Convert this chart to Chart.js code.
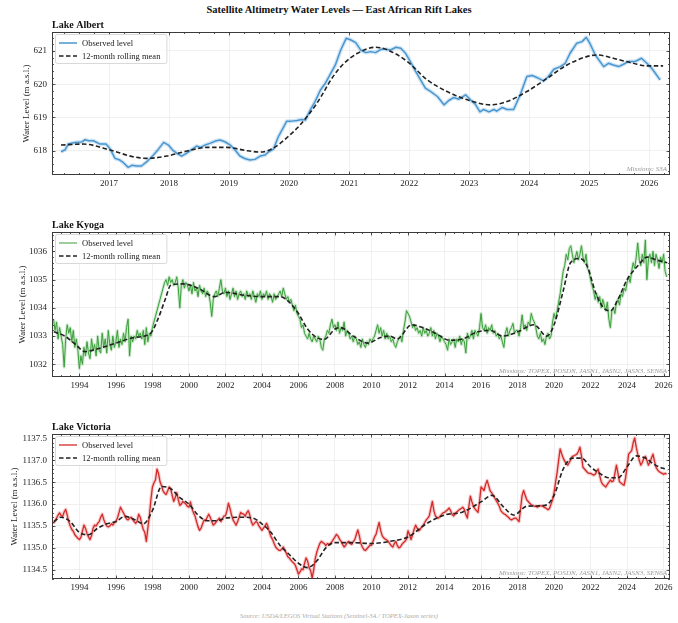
<!DOCTYPE html>
<html>
<head>
<meta charset="utf-8">
<script src="https://cdn.jsdelivr.net/npm/chart.js@4.4.1/dist/chart.umd.min.js"></script>
<style>
  html, body { margin: 0; padding: 0; background: #fff; }
  #fig { position: relative; width: 678px; height: 623px; overflow: hidden;
         font-family: "Liberation Serif", "Times New Roman", serif; }
  #fig canvas { position: absolute; left: 0; }
  #figTitle { position: absolute; left: 0; top: 4px; width: 678px; text-align: center;
              font-weight: bold; font-size: 10.5px; color: #111; }
  #figSource { position: absolute; left: 0; top: 612px; width: 678px; text-align: center;
               font-style: italic; font-size: 6.5px; color: #aaa; }
</style>
</head>
<body>
<div id="fig">
  <div id="figTitle">Satellite Altimetry Water Levels — East African Rift Lakes</div>
  <canvas id="albert" width="678" height="178" style="top:14px"></canvas>
  <canvas id="kyoga" width="678" height="180" style="top:214px"></canvas>
  <canvas id="victoria" width="678" height="180" style="top:416px"></canvas>
  <div id="figSource">Source: USDA/LEGOS Virtual Stations (Sentinel-3A / TOPEX-Jason series)</div>
</div>
<script>
// ---------------- Lake Albert (Sentinel-3A, monthly) ----------------
const albertDates = [
  2016.20, 2016.27, 2016.32, 2016.43, 2016.54, 2016.60, 2016.66, 2016.74, 2016.85, 2016.95,
  2017.02, 2017.10, 2017.18, 2017.24, 2017.32, 2017.38, 2017.46, 2017.54, 2017.63, 2017.74,
  2017.82, 2017.91, 2017.99, 2018.07, 2018.13, 2018.21, 2018.29, 2018.38, 2018.46, 2018.52,
  2018.60, 2018.68, 2018.77, 2018.85, 2018.93, 2019.02, 2019.10, 2019.18, 2019.27, 2019.35,
  2019.43, 2019.52, 2019.60, 2019.66, 2019.74, 2019.82, 2019.91, 2019.96, 2020.04, 2020.13,
  2020.21, 2020.27, 2020.35, 2020.43, 2020.52, 2020.60, 2020.68, 2020.77, 2020.86, 2020.95,
  2021.03, 2021.11, 2021.19, 2021.28, 2021.36, 2021.44, 2021.53, 2021.61, 2021.69, 2021.78,
  2021.86, 2021.94, 2022.02, 2022.11, 2022.19, 2022.27, 2022.36, 2022.47, 2022.58, 2022.66,
  2022.74, 2022.83, 2022.94, 2023.02, 2023.10, 2023.18, 2023.24, 2023.33, 2023.41, 2023.46,
  2023.55, 2023.63, 2023.74, 2023.85, 2023.96, 2024.05, 2024.13, 2024.24, 2024.32, 2024.41,
  2024.52, 2024.60, 2024.68, 2024.79, 2024.88, 2024.95, 2025.01, 2025.10, 2025.24, 2025.32,
  2025.40, 2025.49, 2025.57, 2025.65, 2025.76, 2025.87, 2025.96, 2026.04, 2026.18
];
const albertLevels = [
  617.97, 618.03, 618.20, 618.25, 618.26, 618.33, 618.30, 618.30, 618.20, 618.20,
  618.05, 617.77, 617.72, 617.64, 617.50, 617.56, 617.54, 617.54, 617.67, 617.87,
  618.04, 618.25, 618.17, 618.00, 617.92, 617.84, 617.92, 618.04, 618.14, 618.10,
  618.17, 618.22, 618.29, 618.32, 618.27, 618.17, 618.02, 617.84, 617.76, 617.72,
  617.74, 617.84, 617.87, 617.97, 618.05, 618.42, 618.72, 618.89, 618.89, 618.91,
  618.94, 618.92, 619.22, 619.47, 619.82, 620.02, 620.28, 620.58, 621.03, 621.38,
  621.33, 621.25, 621.03, 620.95, 620.98, 620.95, 621.05, 621.05, 621.03, 621.11,
  621.08, 620.93, 620.68, 620.38, 620.13, 619.88, 619.78, 619.63, 619.38, 619.51,
  619.60, 619.55, 619.68, 619.53, 619.40, 619.17, 619.24, 619.17, 619.24, 619.19,
  619.30, 619.24, 619.24, 619.68, 620.23, 620.26, 620.20, 620.10, 620.23, 620.45,
  620.53, 620.63, 620.93, 621.23, 621.28, 621.41, 621.23, 620.88, 620.53, 620.63,
  620.58, 620.53, 620.60, 620.68, 620.68, 620.78, 620.63, 620.48, 620.13
];
const albertMeanDates = [
  2016.20, 2016.57, 2017.02, 2017.40, 2017.63, 2017.96, 2018.30, 2018.63, 2018.96, 2019.30,
  2019.52, 2019.74, 2019.98, 2020.18, 2020.46, 2020.74, 2020.90, 2021.14, 2021.44, 2021.64,
  2021.97, 2022.30, 2022.63, 2022.97, 2023.35, 2023.63, 2023.96, 2024.30, 2024.63, 2024.96,
  2025.13, 2025.40, 2025.73, 2025.96, 2026.23
];
const albertMeanLevels = [
  618.17, 618.20, 618.02, 617.82, 617.77, 617.84, 617.99, 618.10, 618.10, 618.00,
  617.96, 618.08, 618.42, 618.77, 619.42, 620.25, 620.60, 620.93, 621.11, 621.03,
  620.68, 620.13, 619.78, 619.53, 619.38, 619.48, 619.78, 620.18, 620.58, 620.83,
  620.88, 620.78, 620.63, 620.55, 620.55
];

// ---------------- Lakes Kyoga & Victoria (TOPEX/Jason, monthly from Aug 1992) ----------------
const longSeriesStart = { year: 1992, month: 8 };
const kyogaLevels = [
  /* 1992 */ 1033.6, 1033.2, 1033.5, 1032.9, 1033.3,
  /* 1993 */ 1033.0, 1032.7, 1031.9, 1032.9, 1033.4, 1033.1, 1033.3, 1032.8, 1033.2, 1032.6, 1032.9, 1032.5,
  /* 1994 */ 1031.85, 1032.3, 1032.0, 1032.6, 1032.3, 1032.8, 1032.4, 1032.2, 1032.9, 1032.5, 1032.7, 1032.3,
  /* 1995 */ 1033.0, 1032.5, 1032.4, 1033.1, 1032.6, 1032.9, 1032.4, 1033.2, 1032.7, 1032.5, 1033.0, 1032.6,
  /* 1996 */ 1032.8, 1033.2, 1032.6, 1032.9, 1032.7, 1033.1, 1032.8, 1033.3, 1033.6, 1032.3, 1033.0, 1032.8,
  /* 1997 */ 1033.0, 1032.9, 1033.2, 1033.0, 1033.1, 1032.9, 1033.2, 1032.7, 1033.3, 1032.8, 1033.1, 1033.0,
  /* 1998 */ 1033.3, 1033.5, 1033.7, 1033.9, 1034.1, 1034.3, 1034.5, 1034.7, 1034.9, 1035.0, 1034.8, 1035.1,
  /* 1999 */ 1034.9, 1035.0, 1034.8, 1034.9, 1035.1, 1034.7, 1034.0, 1034.8, 1035.0, 1034.7, 1034.9, 1034.8,
  /* 2000 */ 1034.6, 1034.8, 1034.5, 1034.9, 1034.6, 1034.7, 1034.4, 1034.8, 1034.6, 1034.5, 1034.7, 1034.4,
  /* 2001 */ 1034.6, 1034.5, 1034.2, 1033.7, 1034.3, 1034.5, 1034.6, 1034.4, 1034.7, 1035.0, 1034.6, 1034.5,
  /* 2002 */ 1034.7, 1034.4, 1034.6, 1034.3, 1034.5, 1034.7, 1034.4, 1034.6, 1034.3, 1034.5, 1034.6, 1034.4,
  /* 2003 */ 1034.5, 1034.3, 1034.6, 1034.4, 1034.5, 1034.3, 1034.6, 1034.4, 1034.2, 1034.5, 1034.4, 1034.6,
  /* 2004 */ 1034.3, 1034.5, 1034.4, 1034.6, 1034.3, 1034.5, 1034.4, 1034.2, 1034.5, 1034.3, 1034.4, 1034.5,
  /* 2005 */ 1034.6, 1034.4, 1034.7, 1034.5, 1034.3, 1034.4, 1034.2, 1034.3, 1034.1, 1033.9, 1034.1, 1033.8,
  /* 2006 */ 1033.7, 1033.6, 1033.3, 1033.4, 1033.1, 1033.0, 1032.9, 1033.1, 1032.9, 1032.8, 1033.0, 1032.9,
  /* 2007 */ 1032.8, 1033.0, 1032.9, 1032.6, 1032.5, 1032.9, 1033.0, 1033.2, 1033.1, 1033.4, 1033.6, 1033.3,
  /* 2008 */ 1033.4, 1033.2, 1033.5, 1033.1, 1033.3, 1033.2, 1033.5, 1033.0, 1033.2, 1033.1, 1032.9, 1033.0,
  /* 2009 */ 1032.8, 1033.0, 1032.9, 1032.7, 1032.8, 1032.6, 1032.9, 1032.7, 1032.6, 1032.8, 1032.7, 1032.9,
  /* 2010 */ 1032.8, 1032.9, 1033.0, 1033.2, 1033.4, 1033.1, 1033.3, 1033.0, 1033.2, 1032.9, 1033.1, 1032.9,
  /* 2011 */ 1033.0, 1032.8, 1032.9, 1032.7, 1032.6, 1032.8, 1032.9, 1033.0, 1032.8, 1033.2, 1033.5, 1033.9,
  /* 2012 */ 1033.8, 1033.7, 1033.5, 1033.3, 1033.4, 1033.2, 1033.3, 1033.1, 1033.2, 1033.0, 1033.3, 1033.1,
  /* 2013 */ 1033.2, 1033.0, 1033.1, 1033.3, 1033.0, 1033.2, 1032.9, 1033.1, 1033.0, 1032.8, 1033.0, 1032.9,
  /* 2014 */ 1032.8, 1032.7, 1032.5, 1032.9, 1032.7, 1032.8, 1032.9, 1032.6, 1032.9, 1032.8, 1033.0, 1032.7,
  /* 2015 */ 1032.9, 1032.8, 1032.4, 1033.1, 1032.9, 1033.0, 1033.2, 1032.9, 1033.2, 1033.1, 1033.0, 1033.3,
  /* 2016 */ 1033.8, 1033.3, 1033.2, 1033.4, 1033.1, 1033.3, 1033.2, 1033.4, 1033.1, 1033.2, 1033.0, 1033.1,
  /* 2017 */ 1032.9, 1033.0, 1032.8, 1032.6, 1033.1, 1033.3, 1033.0, 1033.2, 1033.3, 1033.45, 1033.1, 1033.2,
  /* 2018 */ 1033.2, 1033.0, 1033.3, 1033.75, 1033.3, 1033.4, 1033.2, 1033.5, 1033.4, 1033.8, 1033.6, 1033.5,
  /* 2019 */ 1033.3, 1033.0, 1032.9, 1033.1, 1032.8, 1032.9, 1032.7, 1033.0, 1033.1, 1032.9, 1033.0, 1033.5,
  /* 2020 */ 1033.8, 1033.6, 1033.9, 1034.2, 1034.5, 1034.9, 1035.3, 1035.5, 1035.9, 1035.7, 1036.1, 1036.2,
  /* 2021 */ 1035.9, 1035.6, 1035.8, 1036.0, 1035.7, 1035.9, 1036.2, 1035.8, 1035.6, 1035.9, 1035.4, 1035.3,
  /* 2022 */ 1035.0, 1034.8, 1034.6, 1034.3, 1034.5, 1034.2, 1034.4, 1034.0, 1034.3, 1034.1, 1033.9, 1034.2,
  /* 2023 */ 1033.6, 1033.3, 1033.9, 1034.0, 1033.8, 1034.2, 1034.3, 1034.1, 1034.5, 1034.4, 1034.7, 1034.6,
  /* 2024 */ 1034.9, 1035.1, 1034.9, 1035.3, 1035.6, 1035.4, 1035.8, 1036.3, 1035.7, 1035.5, 1035.9, 1035.6,
  /* 2025 */ 1036.4, 1035.0, 1035.7, 1035.9, 1035.6, 1036.0, 1035.5, 1035.9, 1035.7, 1035.4, 1035.8, 1035.6,
  /* 2026 */ 1035.9, 1035.3, 1035.1
];
const kyogaMeanDates = [
  1992.60, 1993.20, 1993.80, 1994.30, 1995.00, 1996.00, 1997.00, 1997.90, 1998.30, 1998.70,
  1999.00, 1999.70, 2000.50, 2001.40, 2002.00, 2003.00, 2004.00, 2005.00, 2005.50, 2006.00,
  2006.50, 2007.00, 2007.40, 2008.00, 2008.30, 2009.00, 2009.80, 2010.50, 2011.00, 2011.40,
  2012.20, 2012.80, 2013.50, 2014.30, 2015.00, 2015.80, 2016.50, 2017.20, 2018.00, 2018.90,
  2019.60, 2020.00, 2020.50, 2020.90, 2021.40, 2021.80, 2022.30, 2022.80, 2023.10, 2023.50,
  2024.00, 2024.60, 2025.10, 2025.60, 2026.20
];
const kyogaMeanLevels = [
  1033.15, 1033.00, 1032.70, 1032.45, 1032.55, 1032.75, 1032.95, 1033.10, 1033.60, 1034.30,
  1034.80, 1034.85, 1034.70, 1034.40, 1034.55, 1034.45, 1034.40, 1034.40, 1034.20, 1033.80,
  1033.25, 1032.95, 1032.88, 1033.25, 1033.30, 1033.00, 1032.75, 1032.95, 1033.00, 1032.90,
  1033.40, 1033.30, 1033.10, 1032.85, 1032.90, 1033.15, 1033.20, 1033.00, 1033.15, 1033.40,
  1033.00, 1033.40, 1034.60, 1035.60, 1035.75, 1035.50, 1034.50, 1033.95, 1033.90, 1034.30,
  1035.00, 1035.50, 1035.80, 1035.70, 1035.60
];

const victoriaLevels = [
  /* 1992 */ 1135.56, 1135.62, 1135.68, 1135.75, 1135.80,
  /* 1993 */ 1135.74, 1135.72, 1135.82, 1135.88, 1135.75, 1135.60, 1135.50, 1135.42, 1135.38, 1135.30, 1135.26, 1135.22,
  /* 1994 */ 1135.19, 1135.24, 1135.38, 1135.52, 1135.45, 1135.33, 1135.25, 1135.19, 1135.28, 1135.45, 1135.52, 1135.50,
  /* 1995 */ 1135.56, 1135.60, 1135.70, 1135.77, 1135.65, 1135.56, 1135.50, 1135.48, 1135.50, 1135.55, 1135.52, 1135.58,
  /* 1996 */ 1135.60, 1135.68, 1135.80, 1135.93, 1135.86, 1135.80, 1135.72, 1135.66, 1135.64, 1135.68, 1135.70, 1135.65,
  /* 1997 */ 1135.60, 1135.56, 1135.62, 1135.77, 1135.70, 1135.55, 1135.42, 1135.35, 1135.15, 1135.45, 1135.73, 1136.10,
  /* 1998 */ 1136.39, 1136.48, 1136.55, 1136.80, 1136.70, 1136.51, 1136.42, 1136.30, 1136.25, 1136.22, 1136.30, 1136.39,
  /* 1999 */ 1136.35, 1136.20, 1136.06, 1136.15, 1136.26, 1136.10, 1135.97, 1136.00, 1136.06, 1136.03, 1136.00, 1135.95,
  /* 2000 */ 1135.93, 1136.05, 1135.90, 1135.80, 1135.73, 1135.60, 1135.48, 1135.40, 1135.45, 1135.55, 1135.64, 1135.62,
  /* 2001 */ 1135.70, 1135.77, 1135.70, 1135.60, 1135.52, 1135.55, 1135.60, 1135.64, 1135.68, 1135.60, 1135.66, 1135.73,
  /* 2002 */ 1135.73, 1135.85, 1136.02, 1135.90, 1135.75, 1135.64, 1135.58, 1135.52, 1135.60, 1135.70, 1135.81, 1135.78,
  /* 2003 */ 1135.77, 1135.72, 1135.80, 1135.85, 1135.75, 1135.60, 1135.52, 1135.56, 1135.60, 1135.58, 1135.50, 1135.45,
  /* 2004 */ 1135.40, 1135.45, 1135.50, 1135.56, 1135.48, 1135.35, 1135.25, 1135.19, 1135.10, 1135.02, 1134.98, 1134.95,
  /* 2005 */ 1134.94, 1134.97, 1135.02, 1134.95, 1134.88, 1134.80, 1134.77, 1134.72, 1134.68, 1134.65, 1134.60, 1134.50,
  /* 2006 */ 1134.40, 1134.45, 1134.52, 1134.50, 1134.65, 1134.77, 1134.70, 1134.55, 1134.48, 1134.31, 1134.50, 1134.75,
  /* 2007 */ 1134.90, 1135.00, 1135.10, 1135.15, 1135.12, 1135.10, 1135.05, 1135.10, 1135.08, 1135.10, 1135.14, 1135.20,
  /* 2008 */ 1135.25, 1135.31, 1135.27, 1135.20, 1135.15, 1135.08, 1135.02, 1135.06, 1135.12, 1135.15, 1135.10, 1135.08,
  /* 2009 */ 1135.14, 1135.19, 1135.30, 1135.41, 1135.28, 1135.10, 1135.02, 1134.96, 1134.94, 1134.98, 1135.02, 1135.06,
  /* 2010 */ 1135.06, 1135.15, 1135.25, 1135.31, 1135.45, 1135.58, 1135.40, 1135.28, 1135.23, 1135.20, 1135.18, 1135.15,
  /* 2011 */ 1135.10, 1135.05, 1135.02, 1135.10, 1135.15, 1135.05, 1135.00, 1135.02, 1135.08, 1135.12, 1135.15, 1135.20,
  /* 2012 */ 1135.39, 1135.30, 1135.19, 1135.30, 1135.42, 1135.52, 1135.45, 1135.39, 1135.42, 1135.48, 1135.52, 1135.58,
  /* 2013 */ 1135.64, 1135.68, 1135.73, 1135.90, 1136.06, 1135.85, 1135.73, 1135.70, 1135.68, 1135.72, 1135.76, 1135.80,
  /* 2014 */ 1135.81, 1135.84, 1135.87, 1135.91, 1135.85, 1135.76, 1135.73, 1135.78, 1135.82, 1135.85, 1135.88, 1135.90,
  /* 2015 */ 1135.93, 1135.88, 1135.76, 1135.68, 1135.95, 1136.18, 1136.05, 1135.95, 1135.89, 1135.85, 1135.81, 1136.05,
  /* 2016 */ 1136.39, 1136.35, 1136.31, 1136.45, 1136.54, 1136.42, 1136.30, 1136.26, 1136.20, 1136.14, 1136.08, 1136.02,
  /* 2017 */ 1135.95, 1135.85, 1135.81, 1135.78, 1135.76, 1135.73, 1135.70, 1135.66, 1135.64, 1135.66, 1135.68, 1135.68,
  /* 2018 */ 1135.64, 1135.60, 1135.90, 1136.20, 1136.31, 1136.20, 1136.10, 1136.06, 1136.02, 1135.98, 1135.97, 1135.95,
  /* 2019 */ 1135.95, 1135.93, 1135.95, 1135.96, 1135.96, 1135.94, 1135.92, 1135.90, 1135.87, 1135.90, 1136.00, 1136.10,
  /* 2020 */ 1136.26, 1136.50, 1136.72, 1137.00, 1137.26, 1137.15, 1137.05, 1136.98, 1136.92, 1136.89, 1136.95, 1137.02,
  /* 2021 */ 1137.09, 1137.10, 1137.12, 1137.14, 1137.20, 1137.30, 1137.10, 1136.84, 1136.80, 1136.76, 1136.72, 1136.70,
  /* 2022 */ 1136.70, 1136.68, 1136.66, 1136.68, 1136.74, 1136.80, 1136.65, 1136.51, 1136.45, 1136.42, 1136.39, 1136.45,
  /* 2023 */ 1136.50, 1136.55, 1136.51, 1136.53, 1136.70, 1136.89, 1136.70, 1136.51, 1136.48, 1136.45, 1136.43, 1136.60,
  /* 2024 */ 1136.85, 1137.14, 1137.18, 1137.22, 1137.40, 1137.51, 1137.30, 1137.14, 1137.00, 1136.89, 1136.95, 1137.05,
  /* 2025 */ 1137.09, 1137.00, 1136.89, 1136.95, 1137.05, 1137.14, 1136.98, 1136.84, 1136.78, 1136.74, 1136.72, 1136.70,
  /* 2026 */ 1136.68, 1136.70, 1136.68
];
const victoriaMeanDates = [
  1992.60, 1993.00, 1993.50, 1994.00, 1994.50, 1995.00, 1995.50, 1996.00, 1996.50, 1997.00,
  1997.50, 1998.00, 1998.50, 1999.00, 1999.50, 2000.00, 2000.50, 2001.00, 2001.50, 2002.00,
  2003.00, 2003.50, 2004.00, 2004.50, 2005.00, 2005.50, 2006.00, 2006.50, 2007.00, 2007.50,
  2008.00, 2009.00, 2010.00, 2011.00, 2012.00, 2013.00, 2014.00, 2015.00, 2016.00, 2016.60,
  2017.20, 2017.80, 2018.50, 2019.50, 2020.00, 2020.50, 2021.00, 2021.50, 2022.00, 2022.50,
  2023.00, 2023.50, 2024.00, 2024.50, 2025.00, 2025.50, 2026.20
];
const victoriaMeanLevels = [
  1135.60, 1135.70, 1135.60, 1135.35, 1135.30, 1135.45, 1135.55, 1135.60, 1135.72, 1135.65,
  1135.55, 1135.85, 1136.40, 1136.35, 1136.15, 1136.00, 1135.75, 1135.62, 1135.62, 1135.68,
  1135.70, 1135.68, 1135.55, 1135.35, 1135.05, 1134.85, 1134.65, 1134.55, 1134.70, 1135.00,
  1135.12, 1135.12, 1135.10, 1135.15, 1135.25, 1135.55, 1135.75, 1135.82, 1136.05, 1136.20,
  1135.95, 1135.75, 1135.95, 1135.97, 1136.20, 1136.80, 1137.05, 1137.05, 1136.85, 1136.70,
  1136.60, 1136.60, 1136.85, 1137.10, 1137.05, 1136.90, 1136.78
];

// Month-by-month decimal years for the two long altimetry records
const longSeriesDates = kyogaLevels.map((_, i) =>
  longSeriesStart.year + (longSeriesStart.month - 1 + i) / 12);

const SERIF = '"Liberation Serif", "Times New Roman", serif';

// Inward ticks on all four sides, a dark frame, panel heading, legend box and mission note
const panelDecor = {
  id: 'panelDecor',
  afterDatasetsDraw(chart, args, o) {
    const { ctx, chartArea: a, scales: { x, y } } = chart;
    ctx.save();
    ctx.strokeStyle = '#333';
    ctx.lineWidth = 0.8;
    const minorVals = (scale, step) => {
      const out = [];
      const start = Math.ceil(scale.min / step - 1e-9);
      for (let k = start; k * step <= scale.max + 1e-9; k++) out.push(k * step);
      return out;
    };
    const drawX = (vals, len) => {
      ctx.beginPath();
      vals.forEach(v => {
        const px = Math.round(x.getPixelForValue(v)) + 0.5;
        ctx.moveTo(px, a.bottom); ctx.lineTo(px, a.bottom - len);
        ctx.moveTo(px, a.top); ctx.lineTo(px, a.top + len);
      });
      ctx.stroke();
    };
    const drawY = (vals, len) => {
      ctx.beginPath();
      vals.forEach(v => {
        const py = Math.round(y.getPixelForValue(v)) + 0.5;
        ctx.moveTo(a.left, py); ctx.lineTo(a.left + len, py);
        ctx.moveTo(a.right, py); ctx.lineTo(a.right - len, py);
      });
      ctx.stroke();
    };
    drawX(minorVals(x, o.xMinor), 2);
    drawX(x.ticks.map(t => t.value), 3.5);
    drawY(minorVals(y, o.yMinor), 2);
    drawY(y.ticks.map(t => t.value), 3.5);
    ctx.strokeStyle = '#3a3a3a';
    ctx.lineWidth = 1;
    ctx.strokeRect(Math.round(a.left) + 0.5, Math.round(a.top) + 0.5,
                   Math.round(a.width) - 1, Math.round(a.height) - 1);
    ctx.restore();
  },
  afterDraw(chart, args, o) {
    const { ctx, chartArea: a } = chart;
    ctx.save();
    // panel heading
    ctx.fillStyle = '#111';
    ctx.font = `bold 10px ${SERIF}`;
    ctx.textAlign = 'left';
    ctx.textBaseline = 'alphabetic';
    ctx.fillText(o.heading, a.left, a.top - 4);

    // legend
    const ds = chart.data.datasets;
    const items = [ds[1], ds[0]];
    ctx.font = `8.5px ${SERIF}`;
    const tw = Math.max(...items.map(d => ctx.measureText(d.label).width));
    const x0 = a.left + 3, y0 = a.top + 2, w = 27 + tw + 6, h = 29;
    ctx.beginPath();
    ctx.roundRect(x0 + 0.5, y0 + 0.5, w, h, 2);
    ctx.fillStyle = 'rgba(255,255,255,0.85)';
    ctx.fill();
    ctx.strokeStyle = '#cfcfcf';
    ctx.lineWidth = 0.8;
    ctx.stroke();
    items.forEach((d, i) => {
      const cy = y0 + 9 + i * 13;
      ctx.beginPath();
      ctx.setLineDash(d.borderDash || []);
      ctx.strokeStyle = d.borderColor;
      ctx.lineWidth = d.borderWidth;
      ctx.moveTo(x0 + 4, cy); ctx.lineTo(x0 + 22, cy);
      ctx.stroke();
      ctx.setLineDash([]);
      ctx.fillStyle = '#222';
      ctx.textBaseline = 'middle';
      ctx.fillText(d.label, x0 + 27, cy + 0.5);
    });

    // mission note
    ctx.font = `italic 7px ${SERIF}`;
    ctx.fillStyle = '#9a9a9a';
    ctx.textAlign = 'right';
    ctx.textBaseline = 'middle';
    ctx.fillText(o.missions, a.right - 3, a.bottom - 6);
    ctx.restore();
  }
};

function buildPanel(id, p) {
  const obs = p.dates.map((d, i) => ({ x: d, y: p.levels[i] }));
  const mean = p.meanDates.map((d, i) => ({ x: d, y: p.meanLevels[i] }));
  const tickFont = { family: SERIF, size: 9 };
  return new Chart(document.getElementById(id), {
    type: 'line',
    data: {
      datasets: [
        { label: '12-month rolling mean', data: mean, borderColor: '#222', borderWidth: 1.6,
          borderDash: [4.5, 2.5], pointRadius: 0, cubicInterpolationMode: 'monotone', order: 0 },
        { label: 'Observed level', data: obs, borderColor: p.color, borderWidth: p.width,
          pointRadius: 0, tension: 0, order: 1 },
        { label: 'spread', data: obs, borderColor: p.halo, borderWidth: p.haloWidth,
          pointRadius: 0, tension: 0, order: 2 }
      ]
    },
    options: {
      responsive: false,
      animation: false,
      devicePixelRatio: 1,
      layout: { padding: { left: 0, right: 8, top: 18, bottom: 0 } },
      elements: { line: { borderJoinStyle: 'round' } },
      plugins: {
        legend: { display: false },
        tooltip: { enabled: false },
        panelDecor: { heading: p.heading, missions: p.missions, xMinor: p.xMinor, yMinor: p.yMinor }
      },
      scales: {
        x: {
          type: 'linear', min: p.xMin, max: p.xMax,
          afterFit: s => { s.height = 17; },
          border: { display: false },
          grid: { color: '#ececec', lineWidth: 0.8, drawTicks: false },
          ticks: { stepSize: p.xStep, includeBounds: false, autoSkip: false, maxRotation: 0,
                   padding: 3, font: tickFont, color: '#222', callback: v => String(v) }
        },
        y: {
          type: 'linear', min: p.yMin, max: p.yMax,
          afterFit: s => { s.width = 52; },
          border: { display: false },
          grid: { color: '#ececec', lineWidth: 0.8, drawTicks: false },
          ticks: { stepSize: p.yStep, includeBounds: false, padding: 5, font: tickFont,
                   color: '#222', callback: v => v.toFixed(p.yDecimals) },
          title: { display: true, text: 'Water Level (m a.s.l.)', color: '#222',
                   font: { family: SERIF, size: 9 }, padding: { top: p.yTitleGap, bottom: 0 } }
        }
      }
    },
    plugins: [panelDecor]
  });
}

buildPanel('albert', {
  heading: 'Lake Albert', missions: 'Missions: S3A',
  dates: albertDates, levels: albertLevels,
  meanDates: albertMeanDates, meanLevels: albertMeanLevels,
  color: '#4a96cf', width: 1.5, halo: 'rgba(120,180,225,0.35)', haloWidth: 4,
  xMin: 2016.05, xMax: 2026.345, xStep: 1, xMinor: 0.25,
  yMin: 617.27, yMax: 621.57, yStep: 1, yMinor: 0.2, yDecimals: 0, yTitleGap: 21
});

buildPanel('kyoga', {
  heading: 'Lake Kyoga', missions: 'Missions: TOPEX, POSDN, JASN1, JASN2, JASN3, SEN6A',
  dates: longSeriesDates, levels: kyogaLevels,
  meanDates: kyogaMeanDates, meanLevels: kyogaMeanLevels,
  color: '#3a9e3a', width: 1, halo: 'rgba(110,190,110,0.35)', haloWidth: 3,
  xMin: 1992.5, xMax: 2026.35, xStep: 2, xMinor: 0.5,
  yMin: 1031.55, yMax: 1036.69, yStep: 1, yMinor: 0.2, yDecimals: 0, yTitleGap: 17
});

buildPanel('victoria', {
  heading: 'Lake Victoria', missions: 'Missions: TOPEX, POSDN, JASN1, JASN2, JASN3, SEN6A',
  dates: longSeriesDates, levels: victoriaLevels,
  meanDates: victoriaMeanDates, meanLevels: victoriaMeanLevels,
  color: '#d42a2a', width: 1.3, halo: 'rgba(230,110,110,0.35)', haloWidth: 3.5,
  xMin: 1992.5, xMax: 2026.35, xStep: 2, xMinor: 0.5,
  yMin: 1134.29, yMax: 1137.6, yStep: 0.5, yMinor: 0.1, yDecimals: 1, yTitleGap: 9
});
</script>
</body>
</html>
